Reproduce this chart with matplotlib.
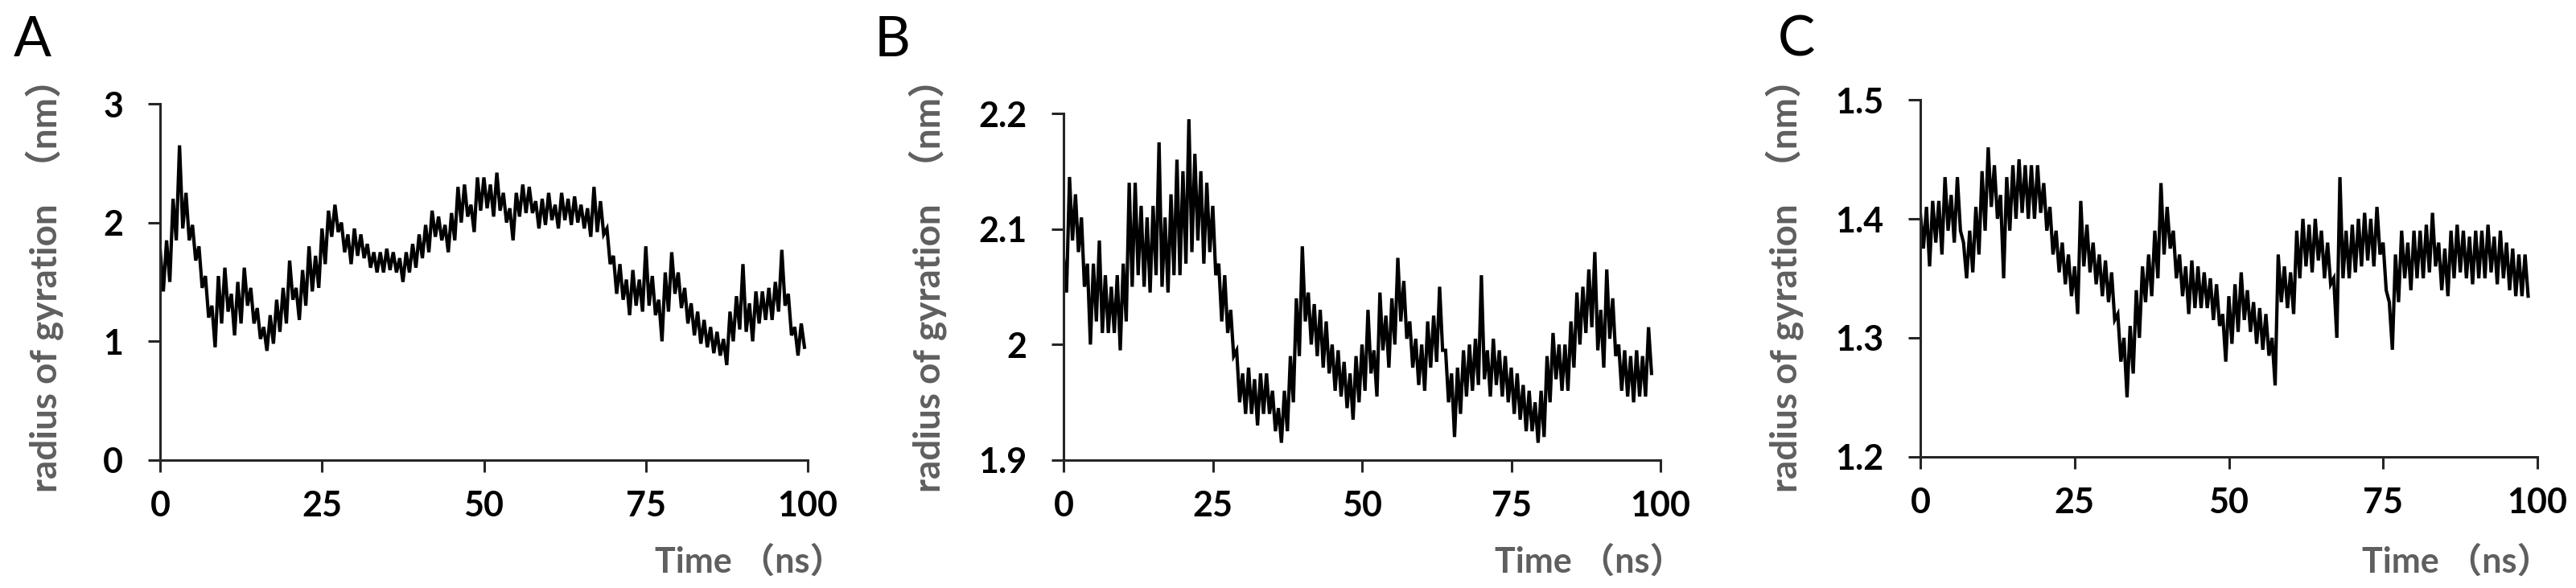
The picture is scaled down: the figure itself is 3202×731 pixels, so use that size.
import numpy as np
import matplotlib
matplotlib.use('Agg')
import matplotlib.pyplot as plt

# ---------------- data ----------------
# For every 1 ns the lower and upper edge of the (very noisy) trace band.
step_ns = 1.0

rgA_low = [
    1.42, 1.50, 1.85, 1.95, 1.85, 1.68, 1.45, 1.20, 0.95, 1.15,
    1.25, 1.05, 1.15, 1.30, 1.15, 1.02, 0.92, 0.98, 1.08, 1.15,
    1.35, 1.18, 1.30, 1.42, 1.45, 1.65, 1.88, 1.92, 1.75, 1.65,
    1.72, 1.70, 1.62, 1.58, 1.58, 1.60, 1.58, 1.50, 1.58, 1.62,
    1.70, 1.75, 1.88, 1.85, 1.75, 1.85, 2.00, 2.05, 1.92, 2.10,
    2.12, 2.05, 2.10, 2.00, 1.85, 2.05, 2.08, 2.08, 1.95, 1.98,
    2.02, 1.95, 2.02, 1.98, 2.00, 1.95, 1.88, 1.92, 1.90, 1.65,
    1.40, 1.35, 1.22, 1.30, 1.25, 1.30, 1.22, 1.00, 1.25, 1.40,
    1.28, 1.15, 1.05, 0.98, 0.95, 0.90, 0.88, 0.80, 1.00, 1.10,
    1.08, 1.00, 1.15, 1.18, 1.18, 1.25, 1.30, 1.05, 0.88, 0.95,
]
rgA_high = [
    1.78, 1.85, 2.20, 2.65, 2.25, 1.98, 1.80, 1.55, 1.30, 1.55,
    1.62, 1.40, 1.50, 1.62, 1.45, 1.28, 1.12, 1.22, 1.35, 1.45,
    1.68, 1.45, 1.60, 1.80, 1.72, 1.95, 2.10, 2.15, 2.00, 1.90,
    1.95, 1.90, 1.82, 1.75, 1.75, 1.78, 1.75, 1.70, 1.75, 1.82,
    1.90, 1.98, 2.10, 2.05, 1.98, 2.08, 2.30, 2.32, 2.15, 2.38,
    2.38, 2.32, 2.42, 2.25, 2.12, 2.25, 2.32, 2.30, 2.18, 2.20,
    2.25, 2.15, 2.25, 2.20, 2.22, 2.15, 2.12, 2.30, 2.18, 1.95,
    1.72, 1.65, 1.52, 1.60, 1.52, 1.80, 1.55, 1.35, 1.58, 1.75,
    1.58, 1.45, 1.32, 1.25, 1.18, 1.12, 1.08, 1.02, 1.25, 1.38,
    1.65, 1.32, 1.42, 1.42, 1.45, 1.50, 1.77, 1.40, 1.12, 1.15,
]

rgB_low = [
    2.045, 2.09, 2.08, 2.05, 2.00, 2.02, 2.01, 2.01, 2.01, 1.995,
    2.02, 2.05, 2.06, 2.05, 2.045, 2.06, 2.05, 2.045, 2.06, 2.06,
    2.07, 2.08, 2.09, 2.07, 2.08, 2.06, 2.02, 2.01, 1.99, 1.95,
    1.94, 1.94, 1.93, 1.94, 1.94, 1.925, 1.915, 1.925, 1.95, 1.99,
    2.02, 2.00, 1.99, 1.98, 1.975, 1.96, 1.955, 1.945, 1.935, 1.95,
    1.96, 1.975, 1.955, 1.995, 1.98, 2.00, 2.02, 2.005, 1.98, 1.965,
    1.96, 1.98, 1.985, 1.995, 1.95, 1.92, 1.94, 1.955, 1.96, 1.965,
    1.97, 1.955, 1.965, 1.955, 1.95, 1.94, 1.935, 1.925, 1.925, 1.915,
    1.92, 1.95, 1.97, 1.96, 1.96, 1.98, 2.00, 2.01, 2.015, 1.995,
    1.98, 2.005, 1.99, 1.96, 1.955, 1.95, 1.955, 1.955, 1.975,
]
rgB_high = [
    2.075, 2.145, 2.13, 2.11, 2.07, 2.07, 2.09, 2.06, 2.05, 2.06,
    2.07, 2.14, 2.14, 2.12, 2.11, 2.12, 2.175, 2.11, 2.13, 2.16,
    2.15, 2.195, 2.165, 2.15, 2.14, 2.12, 2.07, 2.06, 2.03, 1.995,
    1.975, 1.98, 1.97, 1.975, 1.975, 1.96, 1.945, 1.96, 1.99, 2.04,
    2.085, 2.045, 2.035, 2.03, 2.02, 2.00, 1.995, 1.985, 1.975, 1.99,
    2.00, 2.03, 1.995, 2.045, 2.025, 2.04, 2.075, 2.055, 2.02, 2.005,
    2.00, 2.02, 2.025, 2.05, 1.995, 1.975, 1.98, 1.995, 2.00, 2.005,
    2.06, 1.995, 2.005, 1.995, 1.99, 1.98, 1.975, 1.965, 1.96, 1.95,
    1.96, 1.99, 2.01, 2.00, 2.00, 2.02, 2.045, 2.05, 2.065, 2.08,
    2.03, 2.065, 2.04, 2.00, 1.995, 1.99, 1.995, 1.99, 2.015,
]

rgC_low = [
    1.375, 1.36, 1.38, 1.37, 1.39, 1.38, 1.39, 1.35, 1.355, 1.37,
    1.39, 1.41, 1.40, 1.35, 1.39, 1.40, 1.405, 1.40, 1.40, 1.405,
    1.39, 1.37, 1.355, 1.345, 1.335, 1.32, 1.36, 1.355, 1.345, 1.335,
    1.33, 1.315, 1.28, 1.25, 1.27, 1.30, 1.33, 1.335, 1.35, 1.37,
    1.375, 1.35, 1.335, 1.32, 1.325, 1.325, 1.325, 1.315, 1.31, 1.28,
    1.295, 1.305, 1.315, 1.305, 1.295, 1.29, 1.285, 1.26, 1.33, 1.325,
    1.32, 1.35, 1.36, 1.355, 1.365, 1.35, 1.345, 1.30, 1.35, 1.35,
    1.355, 1.36, 1.365, 1.36, 1.37, 1.34, 1.29, 1.33, 1.35, 1.34,
    1.35, 1.35, 1.355, 1.36, 1.34, 1.335, 1.35, 1.355, 1.35, 1.345,
    1.35, 1.35, 1.355, 1.345, 1.35, 1.34, 1.335, 1.335, 1.335,
]
rgC_high = [
    1.405, 1.41, 1.415, 1.415, 1.435, 1.42, 1.435, 1.38, 1.39, 1.41,
    1.44, 1.46, 1.445, 1.42, 1.435, 1.445, 1.45, 1.445, 1.445, 1.445,
    1.43, 1.41, 1.39, 1.38, 1.37, 1.36, 1.415, 1.395, 1.38, 1.37,
    1.365, 1.355, 1.32, 1.30, 1.31, 1.34, 1.36, 1.37, 1.39, 1.43,
    1.41, 1.39, 1.37, 1.36, 1.365, 1.36, 1.355, 1.35, 1.345, 1.32,
    1.335, 1.345, 1.355, 1.34, 1.33, 1.325, 1.32, 1.30, 1.37, 1.36,
    1.355, 1.39, 1.40, 1.395, 1.40, 1.39, 1.38, 1.35, 1.435, 1.39,
    1.395, 1.40, 1.405, 1.40, 1.41, 1.38, 1.33, 1.37, 1.39, 1.38,
    1.39, 1.39, 1.395, 1.405, 1.38, 1.375, 1.39, 1.395, 1.39, 1.385,
    1.39, 1.39, 1.395, 1.385, 1.39, 1.38, 1.375, 1.37, 1.37,
]

panel_letters = ['A', 'B', 'C']
x_ticks = [0, 25, 50, 75, 100]
x_tick_labels = ['0', '25', '50', '75', '100']
y_ticks = [[0, 1, 2, 3], [1.9, 2.0, 2.1, 2.2], [1.2, 1.3, 1.4, 1.5]]
y_tick_labels = [['0', '1', '2', '3'], ['1.9', '2', '2.1', '2.2'], ['1.2', '1.3', '1.4', '1.5']]
y_label = 'radius of gyration  （nm）'
x_label = 'Time （ns）'

series = [(rgA_low, rgA_high), (rgB_low, rgB_high), (rgC_low, rgC_high)]

# ---------------- layout ----------------
W, H = 3202, 731
fig = plt.figure(figsize=(W / 100, H / 100), dpi=100)

# axes boxes in pixels: left, right, top, bottom
boxes = [(199, 1004, 129, 572), (1322, 2064, 141, 572), (2387, 3154, 124, 568)]
ylabel_x = [55, 1153, 2218]
xlabel_right = [1050, 2093, 3171]
letter_x = [17, 1087, 2210]

FONT = ['Lato', 'Noto Sans CJK SC', 'DejaVu Sans']
GREY = '#5f5f5f'
AXC = '#262626'

for i in range(3):
    l, r, t, b = boxes[i]
    ax = fig.add_axes([l / W, 1 - b / H, (r - l) / W, (b - t) / H])
    low, high = series[i]
    tt = np.arange(len(low)) * step_ns
    # noisy trace: alternate between the upper and lower edge of the band
    zx = np.empty(2 * len(low))
    zy = np.empty(2 * len(low))
    zx[0::2] = tt
    zx[1::2] = tt + step_ns / 2
    zy[0::2] = high
    zy[1::2] = low
    ax.plot(zx, zy, color='black', lw=3.0, solid_joinstyle='miter')
    ax.set_xlim(0, 100)
    ax.set_ylim(y_ticks[i][0], y_ticks[i][-1])
    ax.set_xticks(x_ticks)
    ax.set_xticklabels(x_tick_labels)
    ax.set_yticks(y_ticks[i])
    ax.set_yticklabels(y_tick_labels[i])
    for s in ['top', 'right']:
        ax.spines[s].set_visible(False)
    for s in ['left', 'bottom']:
        ax.spines[s].set_linewidth(2.2)
        ax.spines[s].set_color(AXC)
    ax.tick_params(axis='both', direction='out', length=11, width=2.2, color=AXC)
    ax.tick_params(axis='x', pad=16)
    ax.tick_params(axis='y', pad=22)
    for lab in ax.get_xticklabels() + ax.get_yticklabels():
        lab.set_family(FONT)
        lab.set_fontweight('bold')
        lab.set_fontsize(31)
        lab.set_color('black')
    ax.patch.set_visible(False)

    fig.text(ylabel_x[i] / W, 1 - 344 / H, y_label, rotation=90, ha='center', va='center',
             fontsize=33, fontweight='bold', color=GREY, family=FONT)
    fig.text(xlabel_right[i] / W, 1 - 698 / H, x_label, ha='right', va='center',
             fontsize=31, fontweight='bold', color=GREY, family=FONT)
    fig.text(letter_x[i] / W, 1 - 70 / H, panel_letters[i], ha='left', va='baseline',
             fontsize=50, color='black', family=FONT)

fig.savefig('out.png', dpi=100, facecolor='white')
